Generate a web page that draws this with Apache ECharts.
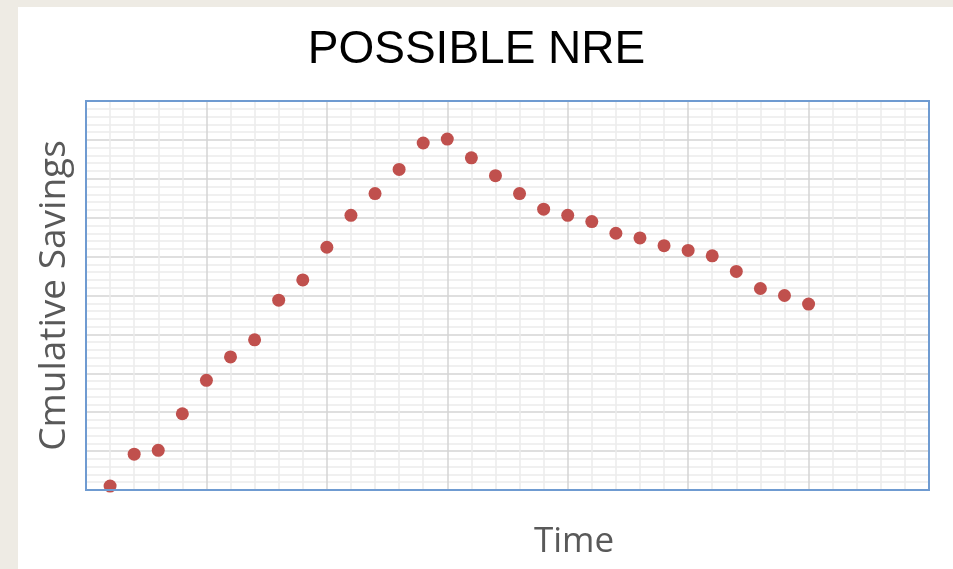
<!DOCTYPE html>
<html>
<head>
<meta charset="utf-8">
<script src="https://cdn.jsdelivr.net/npm/echarts@6/dist/echarts.min.js"></script>
<style>
  html, body { margin: 0; padding: 0; background: #eeebe4; }
  #chart { width: 953px; height: 569px; }
</style>
</head>
<body>
<div id="chart"></div>
<script>
// time steps (x) and cumulative savings (y)
var timeSteps = [1, 2, 3, 4, 5, 6, 7, 8, 9, 10, 11, 12, 13, 14, 15,
  16, 17, 18, 19, 20, 21, 22, 23, 24, 25, 26, 27, 28, 29, 30];
var savings = [0.5, 4.6, 5.1, 9.8, 14.1, 17.1, 19.3, 24.4, 27.0, 31.2,
  35.3, 38.1, 41.2, 44.6, 45.1, 42.7, 40.4, 38.1, 36.1, 35.3,
  34.5, 33.0, 32.4, 31.4, 30.8, 30.1, 28.1, 25.9, 25.0, 23.9];

var points = [];
for (var i = 0; i < timeSteps.length; i++) {
  points.push([timeSteps[i], savings[i]]);
}

var mychart = echarts.init(document.getElementById("chart"));

var option = {
  animation: false,
  backgroundColor: "transparent",
  graphic: [
    {
      // white slide panel
      type: "rect",
      z: -10,
      shape: { x: 18, y: 7, width: 935, height: 562 },
      style: { fill: "#ffffff" },
    },
    {
      // blue plot frame, drawn above the grid lines
      type: "rect",
      z: 50,
      silent: true,
      shape: { x: 86, y: 101, width: 843, height: 389 },
      style: { fill: null, stroke: "#6f9bd1", lineWidth: 2 },
    },
  ],
  title: [
    {
      text: "POSSIBLE NRE",
      left: "center",
      top: 22,
      textStyle: {
        fontFamily: "Liberation Sans",
        fontWeight: "normal",
        fontSize: 46,
        color: "#000000",
      },
    },
    {
      text: "Time",
      left: 529,
      top: 520,
      textStyle: {
        fontFamily: "Open Sans",
        fontWeight: "normal",
        fontSize: 35,
        color: "#595959",
      },
    },
  ],
  grid: {
    left: 86,
    top: 101,
    right: 24,
    bottom: 79,
    show: true,
    borderWidth: 0,
    backgroundColor: "#ffffff",
  },
  xAxis: {
    type: "value",
    min: 0,
    max: 35,
    interval: 5,
    axisLine: { show: false },
    axisTick: { show: false },
    axisLabel: { show: false },
    splitLine: { show: true, lineStyle: { color: "#d4d4d4", width: 1.5 } },
    minorTick: { show: false, splitNumber: 5 },
    minorSplitLine: { show: true, lineStyle: { color: "#ebebeb", width: 1.5 } },
  },
  yAxis: {
    type: "value",
    min: 0,
    max: 50,
    interval: 5,
    name: "Cmulative Savings",
    nameLocation: "middle",
    nameRotate: 90,
    nameGap: 13,
    nameTextStyle: {
      fontFamily: "Open Sans",
      fontSize: 37,
      color: "#595959",
    },
    axisLine: { show: false },
    axisTick: { show: false },
    axisLabel: { show: false },
    splitLine: { show: true, lineStyle: { color: "#d4d4d4", width: 1.5 } },
    minorTick: { show: false, splitNumber: 5 },
    minorSplitLine: { show: true, lineStyle: { color: "#ebebeb", width: 1.5 } },
  },
  series: [
    {
      type: "scatter",
      data: points,
      symbol: "circle",
      symbolSize: 13,
      itemStyle: { color: "#c0504d", opacity: 1 },
    },
  ],
};

mychart.setOption(option);
</script>
</body>
</html>
